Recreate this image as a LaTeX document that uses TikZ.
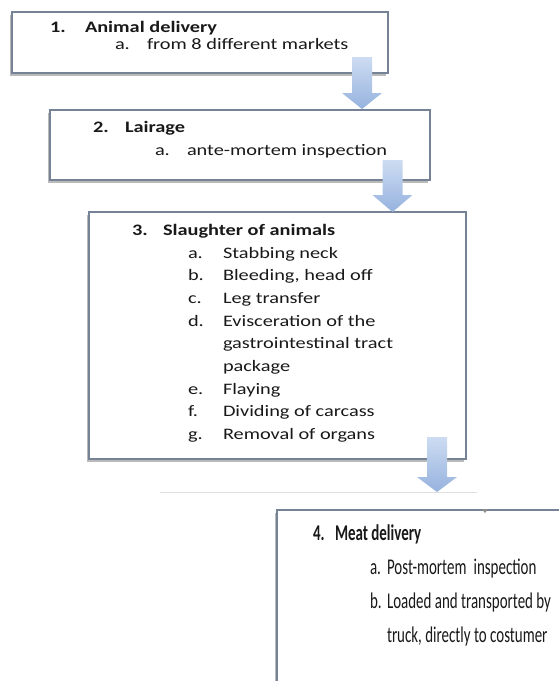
\documentclass[tikz,border=0pt]{standalone}
\usepackage{fontspec}
\usetikzlibrary{shadows}
\newfontfamily\mainf[FakeStretch=1.27]{Carlito}
\newfontfamily\condf[FakeStretch=0.665]{Carlito}
\definecolor{boxline}{RGB}{118,130,150}
\definecolor{arrowtop}{RGB}{205,220,242}
\definecolor{arrowbot}{RGB}{150,178,222}
\definecolor{txt}{RGB}{25,25,25}
\newcommand\blockarrow[4]{% center x, top y, head start y, tip y
  \path[arrowshape] ({#1-10},#2) -- ({#1+10},#2) -- ({#1+10},#3) -- ({#1+20},#3)
     -- (#1,#4) -- ({#1-20},#3) -- ({#1-10},#3) -- cycle;}
\tikzset{
  box/.style={draw=boxline, line width=1.3pt, fill=white, anchor=north west,
    inner sep=0pt, outer sep=0pt,
    drop shadow={shadow xshift=-2pt, shadow yshift=-2.5pt, fill=black!45, opacity=0.6}},
  arrowshape/.style={top color=arrowtop, bottom color=arrowbot, draw=none},
  t/.style={anchor=base west, inner sep=0pt, outer sep=0pt, text=txt,
    font=\mainf\fontsize{16}{16}\selectfont},
  tb/.style={t, font=\mainf\bfseries\fontsize{16}{16}\selectfont},
  c/.style={anchor=base west, inner sep=0pt, outer sep=0pt, text=txt,
    font=\condf\fontsize{22.5}{22.5}\selectfont},
  cb/.style={c, font=\condf\bfseries\fontsize{22.5}{22.5}\selectfont},
}
\begin{document}
\begin{tikzpicture}[x=1pt, y=-1pt]
\useasboundingbox (0,0) rectangle (558,681);
% box 1
\node[box, minimum width=376pt, minimum height=61pt] (b1) at (12,12) {};
\node[tb] (b1n) at (50,32) {1.};
\node[tb] (b1t) at (85,32) {Animal delivery};
\node[t] (b1an) at (115,49) {a.};
\node[t] (b1a) at (147,49) {from 8 different markets};
% box 2
\node[box, minimum width=380pt, minimum height=70pt] (b2) at (50,110) {};
\node[tb] (b2n) at (93,132) {2.};
\node[tb] (b2t) at (125,132) {Lairage};
\node[t] (b2an) at (155,155) {a.};
\node[t] (b2a) at (187,155) {ante-mortem inspection};
% box 3
\node[box, minimum width=377pt, minimum height=247pt] (b3) at (89,212) {};
\node[tb] (b3n) at (132,235) {3.};
\node[tb] (b3t) at (163,235) {Slaughter of animals};
\node[t] (l1) at (188,258) {a.};   \node[t] (i1) at (223,258) {Stabbing neck};
\node[t] (l2) at (188,280.6) {b.}; \node[t] (i2) at (223,280.6) {Bleeding, head off};
\node[t] (l3) at (188,303.3) {c.}; \node[t] (i3) at (223,303.3) {Leg transfer};
\node[t] (l4) at (188,326) {d.};   \node[t] (i4) at (223,326) {Evisceration of the};
\node[t] (i4b) at (223,348.6) {gastrointestinal tract};
\node[t] (i4c) at (223,371.3) {package};
\node[t] (l5) at (188,394) {e.};   \node[t] (i5) at (223,394) {Flaying};
\node[t] (l6) at (188,416.6) {f.}; \node[t] (i6) at (223,416.6) {Dividing of carcass};
\node[t] (l7) at (188,439.3) {g.}; \node[t] (i7) at (223,439.3) {Removal of organs};
% faint separator line and tick
\draw[black!12, line width=0.8pt] (160,492) -- (477,492);
% box 4
\node[box, minimum width=300pt, minimum height=200pt] (b4) at (277,510) {};
\fill[black!45] (482,509) -- (488,509) -- (485,513) -- cycle;
\node[cb] (b4n) at (313,540) {4.};
\node[cb] (b4t) at (335,540) {Meat delivery};
\node[c] (m1) at (370,574) {a.}; \node[c] (j1) at (387,574) {Post-mortem\, inspection};
\node[c] (m2) at (370,608) {b.}; \node[c] (j2) at (387,608) {Loaded and transported by};
\node[c] (j2b) at (387,642) {truck, directly to costumer};
% block arrows
\blockarrow{362}{57}{93}{109}
\blockarrow{392.5}{160}{195}{212}
\blockarrow{437}{437}{477}{492}
\end{tikzpicture}
\end{document}
